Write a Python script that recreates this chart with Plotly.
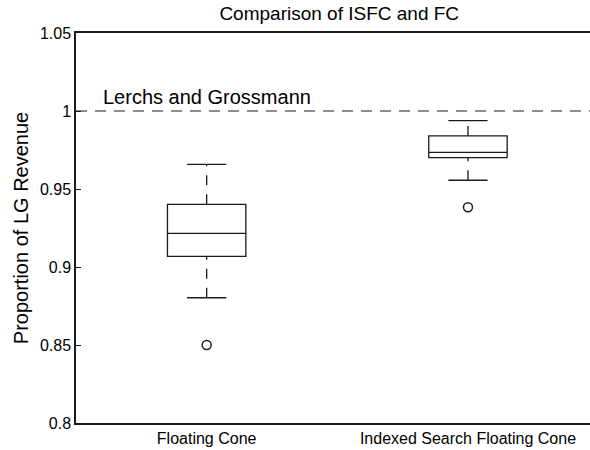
import plotly.graph_objects as go

# Summary statistics for each method (proportion of LG revenue)
categories = ["Floating Cone", "Indexed Search Floating Cone"]
positions = [1, 2]
lower_whisker = [0.8803, 0.9556]
q1 = [0.9068, 0.9701]
median = [0.9216, 0.9735]
q3 = [0.9402, 0.9840]
upper_whisker = [0.9658, 0.9938]
outliers = [0.8500, 0.9383]
reference_level = 1.0
reference_label = "Lerchs and Grossmann"

FONT = "Liberation Sans, Arial, Helvetica, sans-serif"
INK = "#1a1a1a"
BOX_W = 0.30
CAP_W = 0.15

fig = go.Figure()

# Boxes (whiskers drawn separately as dashed lines)
fig.add_trace(go.Box(
    x=positions, q1=q1, median=median, q3=q3,
    lowerfence=q1, upperfence=q3,
    width=BOX_W, whiskerwidth=0,
    line=dict(color=INK, width=1.3),
    fillcolor="rgba(255,255,255,0)",
    boxpoints=False, showlegend=False, hoverinfo="skip",
))

for i, x in enumerate(positions):
    # dashed whiskers: lower fence -> Q1 and Q3 -> upper fence
    for y0, y1 in ((lower_whisker[i], q1[i]), (q3[i], upper_whisker[i])):
        fig.add_trace(go.Scatter(
            x=[x, x], y=[y0, y1], mode="lines",
            line=dict(color=INK, width=1.3, dash="10px,9px"),
            showlegend=False, hoverinfo="skip",
        ))
    # whisker caps
    for yv in (lower_whisker[i], upper_whisker[i]):
        fig.add_trace(go.Scatter(
            x=[x - CAP_W / 2, x + CAP_W / 2], y=[yv, yv], mode="lines",
            line=dict(color=INK, width=1.3),
            showlegend=False, hoverinfo="skip",
        ))

# Outliers
fig.add_trace(go.Scatter(
    x=positions, y=outliers, mode="markers",
    marker=dict(symbol="circle-open", size=9, color=INK, line=dict(width=1.5)),
    showlegend=False, hoverinfo="skip",
))

# Reference level
fig.add_shape(type="line", xref="paper", x0=0, x1=1, yref="y",
              y0=reference_level, y1=reference_level,
              line=dict(color=INK, width=1.2, dash="11px,8px"))
fig.add_annotation(x=0.597, y=1.009, xref="x", yref="y", text=reference_label,
                   showarrow=False, xanchor="left", yanchor="middle",
                   font=dict(family=FONT, size=20, color="black"))

fig.update_layout(
    width=590, height=450,
    margin=dict(l=76, r=0, t=33, b=27),
    paper_bgcolor="white", plot_bgcolor="white",
    font=dict(family=FONT, color="black"),
    title=dict(text="Comparison of ISFC and FC", x=0.575, xanchor="center",
               y=1 - 13 / 450, yanchor="middle",
               font=dict(family=FONT, size=19, color="black")),
    showlegend=False,
)
fig.update_xaxes(
    range=[0.5, 2.467], tickvals=positions, ticktext=categories,
    showgrid=False, zeroline=False, showline=True, mirror=True,
    linecolor=INK, linewidth=1.5, ticks="",
    tickfont=dict(family=FONT, size=16, color="black"),
)
fig.update_yaxes(
    range=[0.8, 1.05], tickvals=[0.8, 0.85, 0.9, 0.95, 1.0, 1.05],
    ticktext=["0.8", "0.85", "0.9", "0.95", "1", "1.05"],
    showgrid=False, zeroline=False, showline=True,
    linecolor=INK, linewidth=1.5, ticks="inside", ticklen=5, tickcolor=INK,
    tickfont=dict(family=FONT, size=16, color="black"),
    title=dict(text="Proportion of LG Revenue", standoff=6,
               font=dict(family=FONT, size=20, color="black")),
)

fig.write_html("out.html")
